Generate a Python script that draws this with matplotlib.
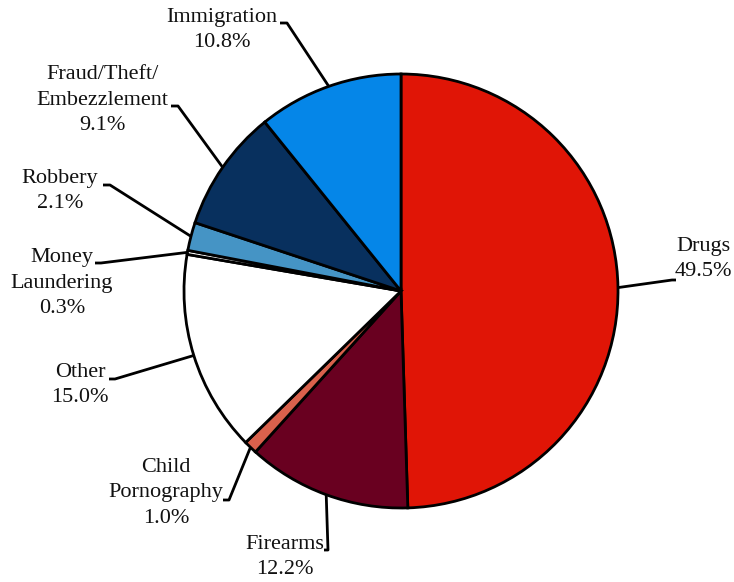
import numpy as np
import matplotlib
matplotlib.use('Agg')
import matplotlib.pyplot as plt

# offence shares, clockwise from 12 o'clock
labels = ['Drugs', 'Firearms', 'Child\nPornography', 'Other', 'Money\nLaundering',
          'Robbery', 'Fraud/Theft/\nEmbezzlement', 'Immigration']
shares = [49.5, 12.2, 1.0, 15.0, 0.3, 2.1, 9.1, 10.8]
colors = ['#E01506', '#690020', '#D9614C', '#FFFFFF', '#FFFFFF',
          '#4594C5', '#08305E', '#0586E8']

# label layout in pixels: text centre, elbow of the leader line, end of the short tail
text_px = [(703, 259), (285, 557), (166, 493), (80, 385), (62, 283),
           (60, 191), (102, 100), (222, 30)]
elbow_px = [(672, 280), (328, 550), (229, 500), (115, 379), (101, 263),
            (110, 185), (178, 106), (287, 23)]
tail_px = [(676, 280), (324, 550), (223, 500), (109, 379), (95, 263),
           (103, 185), (171, 106), (280, 23)]

W, H = 734, 582
CX, CY, R = 401, 291, 217


def to_data(p):
    return ((p[0] - CX) / R, (CY - p[1]) / R)


plt.rcParams['font.family'] = ['Liberation Serif', 'DejaVu Serif']

fig = plt.figure(figsize=(W / 100, H / 100), dpi=100)
ax = fig.add_axes([0, 0, 1, 1])
wedges, _ = ax.pie(shares, colors=colors, startangle=90, counterclock=False, radius=1.0,
                   wedgeprops=dict(edgecolor='black', linewidth=2.0))
ax.set_xlim(-CX / R, (W - CX) / R)
ax.set_ylim(-(H - CY) / R, CY / R)
ax.set_aspect('equal')
ax.axis('off')

for w, lab, val, tp, ep, tl in zip(wedges, labels, shares, text_px, elbow_px, tail_px):
    mid = np.deg2rad((w.theta1 + w.theta2) / 2)
    arc = (np.cos(mid), np.sin(mid))
    e = to_data(ep)
    t = to_data(tl)
    ax.plot([arc[0], e[0], t[0]], [arc[1], e[1], t[1]], color='black', lw=2.0,
            solid_capstyle='butt', zorder=3)
    x, y = to_data(tp)
    ax.text(x, y, f'{lab}\n{val:.1f}%', ha='center', va='center', multialignment='center',
            fontsize=16, linespacing=1.45, color='#111111')

fig.savefig('out.png', dpi=100)
